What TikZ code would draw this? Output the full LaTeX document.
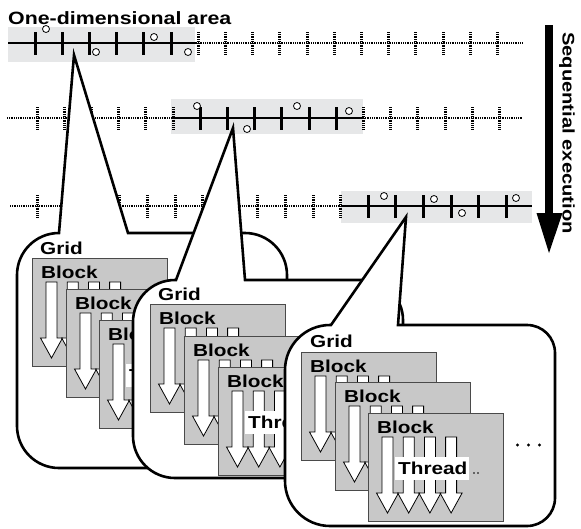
\documentclass[tikz,border=0pt]{standalone}
\usepackage{fontspec}
\newfontfamily\lab{Liberation Sans Bold}[FakeStretch=1.2]
\definecolor{rowgray}{HTML}{E6E7E8}
\definecolor{blockfill}{HTML}{C8C8C8}
\definecolor{blockedge}{HTML}{4A4A4A}
\tikzset{
  lbl/.style={font=\lab\fontsize{17.3pt}{17.3pt}\selectfont, inner sep=0pt, anchor=base west},
  solidline/.style={line width=2.6pt},
  dotline/.style={line width=2.6pt, dash pattern=on 0.9pt off 0.9pt},
  soltick/.style={line width=3pt},
  dottick/.style={line width=3pt, dash pattern=on 0.9pt off 0.9pt},
  marker/.style={circle, draw=black, fill=white, line width=0.8pt, minimum size=7pt, inner sep=0pt},
  bubble/.style={draw=black, fill=white, line width=2.6pt, line join=miter},
  blockbox/.style={fill=blockfill, draw=blockedge, line width=0.9pt},
  thread/.style={fill=white, draw=black, line width=0.8pt},
}
\newcommand\threadarrow[1]{%
  \path[thread] (#1-5.5,24) -- (#1+5.5,24) -- (#1+5.5,80) -- (#1+11,80) -- (#1,100) -- (#1-11,80) -- (#1-5.5,80) -- cycle;}
\newcommand\cudablock[4]{% x, y, name, with thread label (1/0)
  \begin{scope}[shift={(#1,#2)}]
    \path[blockbox] (0,0) rectangle (135,108);
    \threadarrow{19.5}\threadarrow{40.7}\threadarrow{61.9}\threadarrow{83.1}
    \node[lbl] (#3) at (9,20) {Block};
    \ifnum#4=1
      \fill[white] (27,44) rectangle (101,67);
      \node[lbl] (#3t) at (30,61.5) {Thread};
      \fill (106,60) circle (0.9pt) (110,60) circle (0.9pt);
      \fill (149.5,32) circle (1.6pt) (160.5,32) circle (1.6pt) (171.5,32) circle (1.6pt);
    \fi
  \end{scope}}
\begin{document}
\begin{tikzpicture}[x=1pt,y=-1pt]
\useasboundingbox (0,0) rectangle (581,528);

% title
\node[lbl, font=\lab\fontsize{17.8pt}{17.8pt}\selectfont] (title) at (8,24) {One-dimensional area};

% ---------- row 1 ----------
\fill[rowgray] (8,27) rectangle (195,62);
\draw[solidline] (8,43) -- (196,43);
\draw[dotline] (196,43) -- (523,43);
\foreach \k in {0,...,17}{
  \pgfmathsetmacro\xx{35+27.2*\k}
  \ifnum\k<6 \draw[soltick] (\xx,32) -- (\xx,55);
  \else \draw[dottick] (\xx,32) -- (\xx,55); \fi}
\foreach \p in {(46,29),(154,37),(96,52),(188,52)} \node[marker] at \p {};

% ---------- row 2 ----------
\fill[rowgray] (171,99) rectangle (363,134);
\draw[dotline] (7,118) -- (171,118);
\draw[solidline] (171,118) -- (363,118);
\draw[dotline] (363,118) -- (523,118);
\foreach \k in {0,...,17}{
  \pgfmathsetmacro\xx{37+27.2*\k}
  \ifnum\k>5 \ifnum\k<12 \draw[soltick] (\xx,107) -- (\xx,130);
  \else \draw[dottick] (\xx,107) -- (\xx,130); \fi
  \else \draw[dottick] (\xx,107) -- (\xx,130); \fi}
\foreach \p in {(197,106),(247,129),(297,106),(349,111)} \node[marker] at \p {};

% ---------- row 3 ----------
\fill[rowgray] (341,191) rectangle (532,223);
\draw[dotline] (10,206) -- (341,206);
\draw[solidline] (341,206) -- (532,206);
\foreach \k in {0,...,17}{
  \pgfmathsetmacro\xx{37+27.6*\k}
  \ifnum\k>11 \draw[soltick] (\xx,195) -- (\xx,218);
  \else \draw[dottick] (\xx,195) -- (\xx,218); \fi}
\foreach \p in {(384,196),(434,199),(462,213),(516,198)} \node[marker] at \p {};

% ---------- sequential execution ----------
\coordinate (seqtop) at (549,25);
\coordinate (seqend) at (549,253);
\fill (545,25) rectangle (553,214);
\fill (536.5,213) -- (562.5,213) -- (seqend) -- cycle;
\node[font=\lab\fontsize{16.8pt}{16.8pt}\selectfont, inner sep=0pt, rotate=-90] (seq) at (567,133) {Sequential execution};

% ---------- bubble 1 ----------
\path[bubble] (59,233) -- (74,55) -- (128,233) -- (245,233)
  .. controls (268.2,233) and (287,251.8) .. (287,275) -- (287,426)
  .. controls (287,449.2) and (268.2,468) .. (245,468) -- (59,468)
  .. controls (35.8,468) and (17,449.2) .. (17,426) -- (17,275)
  .. controls (17,251.8) and (35.8,233) .. (59,233) -- cycle;
\node[lbl] (grid1) at (40,254.5) {Grid};
\cudablock{32}{258}{b1a}{0}
\cudablock{66}{289}{b1b}{0}
\cudablock{99}{320}{b1c}{1}

% ---------- bubble 2 ----------
\path[bubble] (176,280) -- (233,128) -- (245,280) -- (363,280)
  .. controls (385.1,280) and (403,297.9) .. (403,320) -- (403,438)
  .. controls (403,460.1) and (385.1,478) .. (363,478) -- (175,478)
  .. controls (151.8,478) and (133,459.2) .. (133,436) -- (133,322)
  .. controls (133,298.8) and (151.8,280) .. (175,280) -- cycle;
\node[lbl] (grid2) at (158,300) {Grid};
\cudablock{150}{304}{b2a}{0}
\cudablock{184}{336}{b2b}{0}
\cudablock{218}{367}{b2c}{1}

% ---------- bubble 3 ----------
\path[bubble] (331,325) -- (406,217) -- (398,325) -- (527,325)
  .. controls (542.5,325) and (555,337.5) .. (555,353) -- (555,498)
  .. controls (555,513.5) and (542.5,526) .. (527,526) -- (330,526)
  .. controls (305.2,526) and (285,505.8) .. (285,481) -- (285,370)
  .. controls (285,345.2) and (305.2,325) .. (330,325) -- cycle;
\node[lbl] (grid3) at (310,347) {Grid};
\cudablock{301}{352}{b3a}{0}
\cudablock{335}{382}{b3b}{0}
\cudablock{368}{413}{b3c}{1}
\end{tikzpicture}
\end{document}
